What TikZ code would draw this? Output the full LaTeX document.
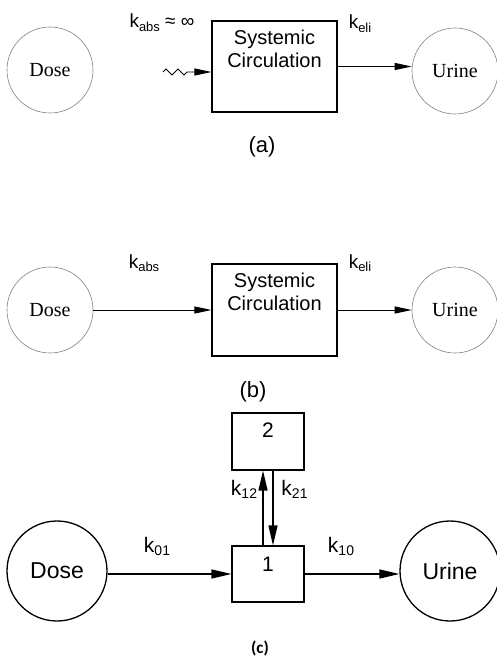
\documentclass[tikz,border=0pt]{standalone}
\usepackage{fontspec}
\setmainfont{Liberation Serif}
\setsansfont{Liberation Sans}
\newfontfamily\capfont{Carlito}
\usetikzlibrary{arrows.meta,decorations.pathmorphing}
\newcommand{\ksub}[2][13]{k\raisebox{-0.3ex}{\fontsize{#1}{#1}\selectfont #2}}

\begin{document}
\begin{tikzpicture}[x=1pt, y=-1pt]

  \tikzset{
    pool/.style={
      circle, draw=gray, line width=0.6pt,
      minimum size=86pt, inner sep=0pt,
      font=\rmfamily\fontsize{20}{20}\selectfont,
    },
    big pool/.style={
      circle, draw, line width=1.3pt,
      minimum size=100pt, inner sep=0pt,
      font=\sffamily\fontsize{23}{23}\selectfont,
    },
    compartment/.style={draw, line width=1.1pt, inner sep=0pt},
    box text/.style={anchor=north, align=center, inner sep=0pt,
      font=\sffamily\fontsize{20}{23.5}\selectfont},
    flow/.style={-{Triangle[length=17pt,width=7pt]}, line width=0.9pt},
    big flow/.style={-{Triangle[length=20pt,width=9pt]}, line width=1.2pt},
    rate/.style={anchor=base, inner sep=0pt, font=\sffamily\fontsize{19}{19}\selectfont},
    big rate/.style={rate, font=\sffamily\fontsize{21}{21}\selectfont},
    part/.style={font=\sffamily\fontsize{22}{22}\selectfont},
  }

  \useasboundingbox (0,0) rectangle (496,660);

  % (a) instant absorption
  \node[pool] (doseA) at (50,70) {Dose};
  \node[pool] (urineA) at (455,71) {Urine};
  \node[compartment, minimum width=125pt, minimum height=91pt] (sysA) at (274.5,66.5) {};
  \node[box text] (sysAtext) at ([yshift=-9pt]sysA.north) {Systemic\\Circulation};
  \coordinate (waveA) at (163,72);
  \draw[flow, decorate, decoration={zigzag, amplitude=3pt, segment length=12pt, post length=19pt}]
    (waveA) -- (waveA -| sysA.west);
  \draw[flow] (sysA.east) -- (sysA.east -| urineA.west);
  \node[rate] (kabsA) at (162,28) {\ksub{abs} ≈ ∞};
  \node[rate] (keliA) at (360,29) {\ksub{eli}};
  \node[part] (partA) at (262,147) {(a)};

  % (b) first order absorption
  \node[pool] (doseB) at (50,310) {Dose};
  \node[pool] (urineB) at (455,310) {Urine};
  \node[compartment, minimum width=125pt, minimum height=92pt] (sysB) at (274.5,310) {};
  \node[box text] (sysBtext) at ([yshift=-9pt]sysB.north) {Systemic\\Circulation};
  \draw[flow] (doseB) -- (sysB);
  \draw[flow] (sysB) -- (urineB);
  \node[rate] (kabsB) at (144,268) {\ksub{abs}};
  \node[rate] (keliB) at (360,268) {\ksub{eli}};
  \node[part] (partB) at (253,392) {(b)};

  % (c) two compartments
  \node[big pool] (doseC) at (57,571) {Dose};
  \node[big pool] (urineC) at (450,571) {Urine};
  \node[compartment, minimum width=72pt, minimum height=57pt,
        label={[anchor=north, inner sep=0pt, yshift=-10pt, font=\sffamily\fontsize{21}{21}\selectfont]north:2}] (two) at (268,441.5) {};
  \node[compartment, minimum width=72pt, minimum height=56pt,
        label={[anchor=north, inner sep=0pt, yshift=-11pt, font=\sffamily\fontsize{21}{21}\selectfont]north:1}] (one) at (268,574) {};
  \draw[big flow] (one.west -| doseC.east) -- (one.west);
  \draw[big flow] (one.east) -- (one.east -| urineC.west);
  \draw[big flow] ([xshift=-5pt]one.north) -- ([xshift=-5pt]two.south);
  \draw[big flow] ([xshift=5pt]two.south) -- ([xshift=5pt]one.north);
  \foreach \name/\idx/\x/\y in {k01/01/157/552, k10/10/341/552, k12/12/244/495, k21/21/294.5/495} {
    \node[big rate] (\name) at (\x,\y) {\ksub[14]{\idx}};
  }
  \node[font=\capfont\bfseries\fontsize{17}{17}\selectfont] (partC) at (260,648) {(c)};

\end{tikzpicture}
\end{document}
